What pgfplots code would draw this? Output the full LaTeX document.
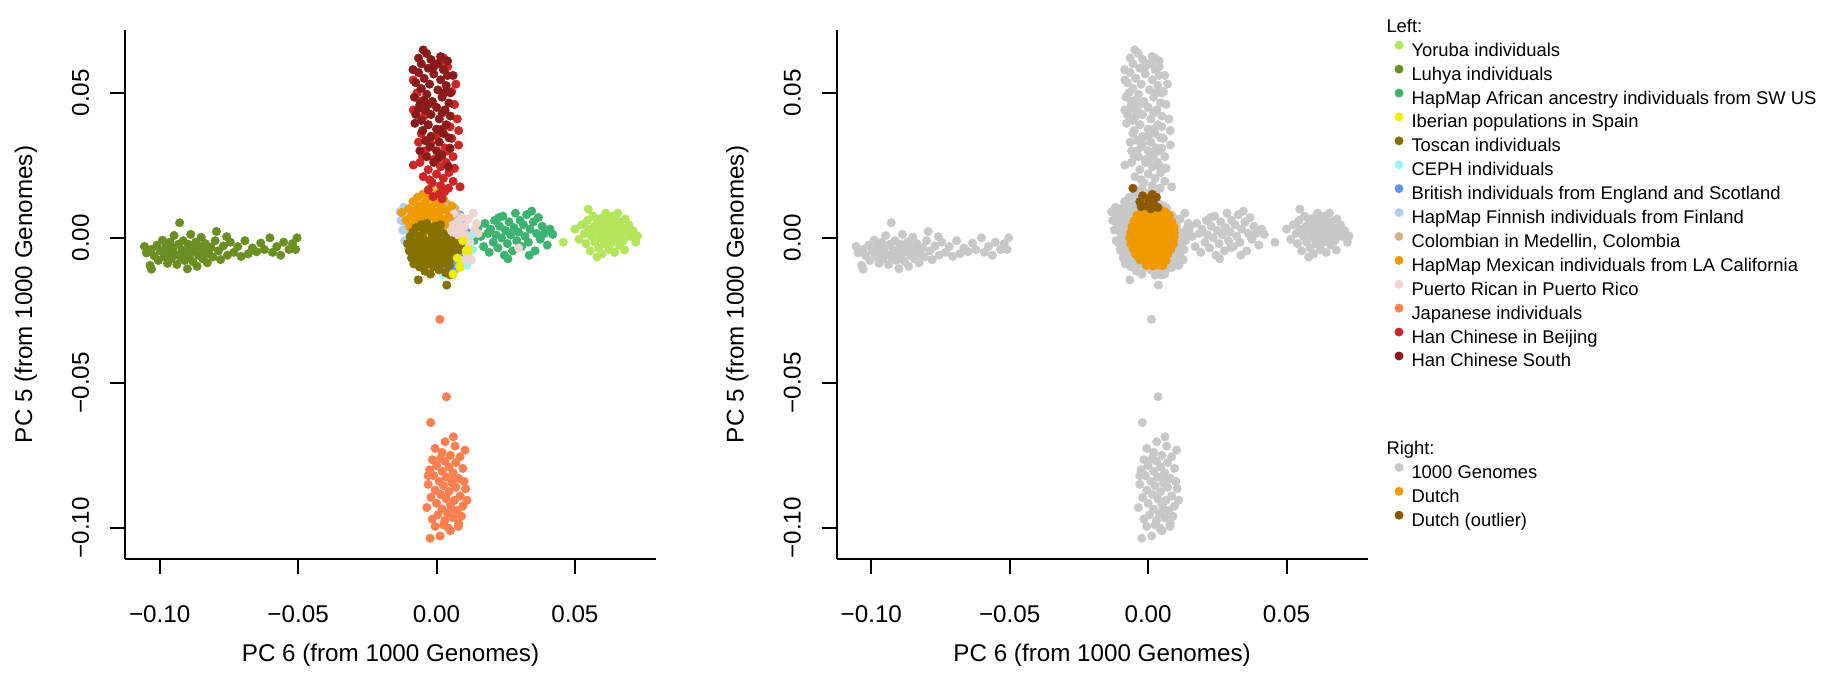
\documentclass[border=0pt]{standalone}
\usepackage{fontspec}
\setmainfont{Liberation Sans}
\usepackage{pgfplots}
\usepackage{pgfplotstable}
\pgfplotsset{compat=1.18}

\definecolor{cYRI}{HTML}{B3E65C}
\definecolor{cLWK}{HTML}{6B8E23}
\definecolor{cASW}{HTML}{3CB371}
\definecolor{cIBS}{HTML}{EEEE00}
\definecolor{cTSI}{HTML}{857000}
\definecolor{cCEU}{HTML}{98F5FF}
\definecolor{cGBR}{HTML}{6495ED}
\definecolor{cFIN}{HTML}{B4CDEB}
\definecolor{cCLM}{HTML}{D2B48C}
\definecolor{cMXL}{HTML}{EE9A00}
\definecolor{cPUR}{HTML}{EED5D2}
\definecolor{cJPT}{HTML}{FF7F50}
\definecolor{cCHB}{HTML}{CD2626}
\definecolor{cCHS}{HTML}{8B1A1A}
\definecolor{cKG}{HTML}{C8C8C8}
\definecolor{cNL}{HTML}{EE9A00}
\definecolor{cNLout}{HTML}{8B5A00}

% PC6 (x), PC5 (y) per population
\pgfplotstableread{
x y
0.0458 -0.0015
0.0500 0.0030
0.0515 -0.0005
0.0525 0.0045
0.0535 0.0015
0.0540 -0.0020
0.0545 0.0060
0.0548 0.0099
0.0550 0.0030
0.0555 -0.0045
0.0560 0.0005
0.0565 0.0075
0.0570 0.0040
0.0572 -0.0015
0.0578 0.0020
0.0580 -0.0066
0.0585 -0.0035
0.0588 0.0055
0.0592 0.0000
0.0595 0.0030
0.0598 -0.0055
0.0600 0.0070
0.0603 0.0015
0.0606 -0.0020
0.0608 0.0045
0.0612 0.0085
0.0615 -0.0005
0.0618 0.0025
0.0620 0.0060
0.0623 -0.0040
0.0626 0.0010
0.0630 0.0040
0.0633 -0.0015
0.0636 0.0075
0.0640 0.0020
0.0643 -0.0050
0.0646 0.0050
0.0650 0.0000
0.0653 0.0030
0.0655 0.0085
0.0660 -0.0025
0.0663 0.0055
0.0667 0.0010
0.0671 0.0035
0.0675 -0.0010
0.0680 -0.0042
0.0682 0.0065
0.0685 0.0020
0.0695 0.0045
0.0700 0.0005
0.0710 0.0025
0.0720 -0.0015
0.0726 0.0006
0.0610 0.0050
0.0580 0.0065
0.0640 0.0065
}\tYRI

\pgfplotstableread{
x y
-0.1055 -0.0030
-0.1048 -0.0052
-0.1035 -0.0095
-0.1030 -0.0040
-0.1030 -0.0108
-0.1020 -0.0062
-0.1010 -0.0025
-0.1005 -0.0078
-0.0997 -0.0045
-0.0990 -0.0008
-0.0985 -0.0065
-0.0978 -0.0030
-0.0972 -0.0088
-0.0968 -0.0052
-0.0963 -0.0015
-0.0958 -0.0072
-0.0952 -0.0035
-0.0948 0.0008
-0.0943 -0.0058
-0.0938 -0.0092
-0.0932 -0.0022
-0.0928 0.0052
-0.0925 -0.0068
-0.0920 -0.0042
-0.0915 -0.0010
-0.0910 -0.0078
-0.0905 -0.0050
-0.0900 -0.0107
-0.0897 -0.0022
-0.0893 -0.0062
-0.0888 0.0012
-0.0884 -0.0035
-0.0880 -0.0082
-0.0875 -0.0046
-0.0870 -0.0015
-0.0865 -0.0098
-0.0860 -0.0060
-0.0855 -0.0030
-0.0850 0.0002
-0.0845 -0.0072
-0.0840 -0.0045
-0.0835 -0.0020
-0.0828 -0.0086
-0.0822 -0.0055
-0.0815 -0.0033
-0.0808 -0.0066
-0.0800 -0.0010
-0.0795 0.0022
-0.0788 -0.0045
-0.0780 -0.0075
-0.0770 -0.0028
-0.0758 0.0004
-0.0755 -0.0060
-0.0745 -0.0015
-0.0732 -0.0050
-0.0718 -0.0030
-0.0706 -0.0064
-0.0692 -0.0010
-0.0680 -0.0055
-0.0665 -0.0035
-0.0650 -0.0048
-0.0635 -0.0018
-0.0622 -0.0040
-0.0602 0.0000
-0.0592 -0.0050
-0.0577 -0.0030
-0.0563 -0.0060
-0.0552 -0.0015
-0.0533 -0.0040
-0.0520 -0.0020
-0.0509 -0.0040
-0.0504 0.0000
}\tLWK

\pgfplotstableread{
x y
0.0120 0.0015
0.0135 -0.0010
0.0150 0.0035
0.0160 0.0005
0.0170 -0.0030
0.0175 0.0050
0.0185 0.0015
0.0190 -0.0050
0.0195 0.0030
0.0205 -0.0015
0.0210 0.0060
0.0215 0.0010
0.0222 -0.0035
0.0225 0.0070
0.0228 0.0040
0.0235 0.0000
0.0240 0.0075
0.0245 -0.0060
0.0250 0.0025
0.0256 -0.0020
0.0258 -0.0072
0.0262 0.0055
0.0268 0.0010
0.0275 -0.0045
0.0280 0.0035
0.0285 0.0085
0.0290 -0.0010
0.0296 0.0020
0.0302 0.0060
0.0308 -0.0030
0.0314 0.0045
0.0320 0.0005
0.0326 0.0080
0.0332 -0.0015
0.0335 -0.0060
0.0338 0.0030
0.0344 0.0092
0.0350 0.0055
0.0356 -0.0045
0.0362 0.0015
0.0368 0.0070
0.0375 -0.0005
0.0382 0.0040
0.0390 0.0015
0.0400 -0.0025
0.0410 0.0030
0.0420 0.0012
}\tASW

\pgfplotstableread{
x y
0.0115 -0.0042
0.0108 -0.0044
0.0085 -0.0102
0.0084 -0.0099
0.0060 -0.0125
0.0095 -0.0010
0.0075 -0.0070
}\tIBS

\pgfplotstableread{
x y
-0.0105 -0.0020
-0.0098 -0.0045
-0.0095 0.0005
-0.0090 -0.0070
-0.0088 -0.0030
-0.0085 0.0020
-0.0082 -0.0090
-0.0080 -0.0055
-0.0077 -0.0015
-0.0074 0.0035
-0.0072 -0.0075
-0.0070 -0.0040
-0.0066 -0.0145
-0.0065 0.0005
-0.0062 -0.0100
-0.0060 -0.0060
-0.0057 -0.0025
-0.0055 0.0045
-0.0052 -0.0085
-0.0050 -0.0045
-0.0047 -0.0005
-0.0045 0.0025
-0.0042 -0.0115
-0.0040 -0.0065
-0.0037 -0.0030
-0.0035 0.0050
-0.0032 -0.0090
-0.0030 -0.0050
-0.0027 -0.0010
-0.0025 0.0030
-0.0022 -0.0125
-0.0020 -0.0075
-0.0017 -0.0040
-0.0015 0.0010
-0.0012 -0.0100
-0.0010 -0.0060
-0.0007 -0.0020
-0.0005 0.0040
-0.0002 -0.0085
0.0000 -0.0045
0.0003 -0.0005
0.0005 0.0020
0.0008 -0.0110
0.0010 -0.0065
0.0013 -0.0030
0.0015 0.0045
0.0018 -0.0090
0.0020 -0.0050
0.0023 -0.0015
0.0025 0.0015
0.0028 -0.0075
0.0030 -0.0035
0.0033 -0.0120
0.0035 0.0000
0.0037 -0.0163
0.0040 -0.0060
0.0043 -0.0025
0.0046 -0.0095
0.0049 -0.0128
0.0050 -0.0045
0.0055 -0.0010
0.0058 -0.0070
0.0062 -0.0035
0.0067 -0.0055
0.0072 -0.0020
0.0078 -0.0045
0.0085 -0.0030
0.0091 -0.0015
}\tTSI

\pgfplotstableread{
x y
0.0025 -0.0128
0.0040 -0.0100
0.0050 -0.0075
0.0060 -0.0110
0.0070 -0.0060
0.0078 -0.0090
0.0085 -0.0030
0.0090 -0.0070
0.0100 -0.0045
0.0108 -0.0015
0.0115 -0.0060
0.0121 -0.0019
0.0125 0.0010
0.0095 0.0015
0.0070 0.0030
0.0035 -0.0060
0.0110 -0.0095
0.0130 -0.0040
}\tCEU

\pgfplotstableread{
x y
0.0085 0.0079
0.0070 0.0060
0.0060 0.0040
0.0095 0.0050
0.0050 0.0070
0.0080 0.0020
0.0105 0.0025
0.0040 0.0015
0.0065 -0.0010
0.0090 -0.0020
0.0100 -0.0050
0.0075 -0.0055
0.0055 -0.0085
0.0085 -0.0080
0.0065 -0.0110
0.0045 -0.0120
0.0030 -0.0105
0.0110 -0.0030
0.0020 0.0055
}\tGBR

\pgfplotstableread{
x y
-0.0132 0.0090
-0.0128 0.0060
-0.0122 0.0027
-0.0118 0.0105
-0.0115 -0.0010
-0.0110 0.0045
-0.0105 0.0075
-0.0100 -0.0040
-0.0098 0.0015
-0.0092 0.0095
-0.0088 -0.0065
-0.0085 0.0040
-0.0080 0.0070
-0.0075 -0.0020
-0.0070 0.0110
-0.0065 0.0025
-0.0060 -0.0080
-0.0050 0.0060
-0.0045 -0.0050
-0.0035 0.0085
}\tFIN

\pgfplotstableread{
x y
0.0010 0.0120
0.0019 0.0125
0.0030 0.0105
0.0037 0.0119
0.0045 0.0095
0.0055 0.0090
0.0067 0.0102
0.0075 0.0080
0.0025 0.0075
-0.0010 0.0060
0.0040 0.0060
0.0060 0.0040
-0.0030 0.0030
0.0015 0.0040
0.0080 0.0020
}\tCLM

\pgfplotstableread{
x y
-0.0126 0.0087
-0.0110 0.0060
-0.0100 0.0100
-0.0096 0.0038
-0.0090 0.0075
-0.0085 0.0125
-0.0080 0.0050
-0.0075 0.0095
-0.0072 0.0020
-0.0068 0.0140
-0.0065 0.0070
-0.0060 0.0110
-0.0057 0.0035
-0.0053 0.0085
-0.0050 0.0150
-0.0047 0.0055
-0.0043 0.0120
-0.0040 0.0020
-0.0037 0.0095
-0.0033 0.0065
-0.0030 0.0135
-0.0027 0.0040
-0.0023 0.0171
-0.0020 0.0105
-0.0017 0.0075
-0.0013 0.0145
-0.0010 0.0025
-0.0007 0.0090
-0.0003 0.0120
0.0000 0.0055
0.0004 0.0155
0.0008 0.0085
0.0012 0.0030
0.0016 0.0110
0.0020 0.0065
0.0025 0.0135
0.0030 0.0045
0.0035 0.0095
0.0045 0.0070
0.0055 0.0110
}\tMXL

\pgfplotstableread{
x y
-0.0060 -0.0040
-0.0020 0.0060
-0.0005 0.0035
0.0005 0.0070
0.0015 0.0010
0.0020 0.0050
0.0028 -0.0020
0.0032 0.0080
0.0038 0.0030
0.0042 -0.0050
0.0046 0.0060
0.0050 0.0005
0.0055 -0.0030
0.0058 0.0045
0.0062 0.0085
0.0066 -0.0065
0.0070 0.0020
0.0073 -0.0010
0.0077 0.0055
0.0080 -0.0045
0.0084 0.0030
0.0088 0.0000
0.0092 0.0070
0.0095 -0.0080
0.0098 -0.0025
0.0102 0.0040
0.0106 0.0010
0.0110 -0.0055
0.0115 0.0065
0.0120 -0.0015
0.0127 -0.0076
0.0133 0.0085
0.0138 0.0030
0.0145 0.0050
0.0150 0.0015
0.0297 -0.0035
}\tPUR

\pgfplotstableread{
x y
0.0012 -0.0281
0.0036 -0.0548
-0.0021 -0.0637
0.0061 -0.0686
0.0031 -0.0703
-0.0005 -0.0726
0.0067 -0.0718
0.0103 -0.0732
0.0020 -0.0740
0.0050 -0.0750
0.0085 -0.0755
-0.0015 -0.0765
0.0015 -0.0760
0.0030 -0.0770
0.0070 -0.0775
0.0000 -0.0785
0.0045 -0.0790
0.0095 -0.0795
-0.0025 -0.0800
0.0020 -0.0805
0.0060 -0.0810
-0.0010 -0.0820
-0.0030 -0.0820
0.0035 -0.0825
0.0080 -0.0830
0.0065 -0.0830
0.0010 -0.0840
0.0100 -0.0840
0.0055 -0.0845
-0.0030 -0.0850
0.0025 -0.0855
0.0070 -0.0860
0.0105 -0.0865
-0.0005 -0.0870
0.0045 -0.0875
0.0015 -0.0885
0.0085 -0.0890
-0.0020 -0.0895
0.0035 -0.0900
0.0065 -0.0905
0.0110 -0.0905
0.0000 -0.0915
0.0050 -0.0920
0.0095 -0.0925
-0.0035 -0.0930
0.0020 -0.0935
0.0055 -0.0935
0.0075 -0.0940
0.0040 -0.0950
0.0005 -0.0955
0.0090 -0.0960
0.0060 -0.0965
-0.0015 -0.0970
0.0030 -0.0975
0.0080 -0.0985
0.0025 -0.0990
-0.0005 -0.0995
0.0079 -0.0995
0.0043 -0.1001
0.0050 -0.1010
0.0013 -0.1028
-0.0023 -0.1036
}\tJPT

\pgfplotstableread{
x y
-0.0012 0.0142
0.0020 0.0135
0.0010 0.0150
0.0030 0.0160
-0.0030 0.0165
0.0043 0.0171
0.0085 0.0176
0.0015 0.0180
-0.0015 0.0190
0.0060 0.0195
-0.0025 0.0200
-0.0048 0.0211
0.0025 0.0205
0.0000 0.0220
0.0045 0.0225
-0.0030 0.0235
0.0065 0.0240
-0.0084 0.0251
0.0015 0.0245
-0.0060 0.0260
0.0035 0.0260
-0.0010 0.0270
-0.0050 0.0280
0.0060 0.0280
0.0010 0.0290
-0.0040 0.0300
0.0040 0.0300
0.0030 0.0310
0.0080 0.0320
-0.0020 0.0325
-0.0065 0.0330
0.0055 0.0343
0.0000 0.0350
-0.0055 0.0360
0.0080 0.0370
0.0020 0.0375
0.0049 0.0383
-0.0030 0.0390
0.0075 0.0410
-0.0045 0.0420
-0.0084 0.0441
0.0031 0.0441
0.0065 0.0460
-0.0060 0.0470
-0.0070 0.0500
0.0055 0.0504
0.0070 0.0530
-0.0084 0.0544
0.0040 0.0590
0.0013 0.0607
0.0025 0.0620
}\tCHB

\pgfplotstableread{
x y
-0.0048 0.0648
-0.0036 0.0636
-0.0065 0.0620
0.0015 0.0625
-0.0020 0.0615
0.0040 0.0610
-0.0055 0.0600
0.0005 0.0600
-0.0010 0.0590
-0.0030 0.0585
-0.0085 0.0580
0.0025 0.0580
-0.0065 0.0570
-0.0010 0.0565
0.0040 0.0560
0.0060 0.0560
-0.0045 0.0550
0.0015 0.0545
-0.0075 0.0535
-0.0025 0.0530
0.0035 0.0525
-0.0055 0.0515
0.0005 0.0510
0.0050 0.0500
0.0030 0.0500
-0.0035 0.0495
-0.0080 0.0485
0.0020 0.0485
-0.0045 0.0475
-0.0015 0.0470
0.0045 0.0465
-0.0060 0.0460
-0.0030 0.0460
0.0000 0.0450
-0.0065 0.0445
-0.0040 0.0440
0.0030 0.0440
0.0020 0.0430
-0.0075 0.0425
-0.0020 0.0425
0.0050 0.0420
0.0010 0.0410
-0.0055 0.0405
-0.0078 0.0395
-0.0030 0.0390
0.0035 0.0390
0.0000 0.0375
-0.0050 0.0370
0.0015 0.0370
0.0025 0.0360
-0.0020 0.0350
0.0045 0.0345
-0.0040 0.0335
0.0010 0.0330
-0.0023 0.0314
0.0049 0.0309
0.0000 0.0300
-0.0060 0.0300
0.0020 0.0285
-0.0035 0.0280
0.0007 0.0274
-0.0010 0.0260
0.0043 0.0245
}\tCHS

\pgfplotstableread{
x y
-0.0020 0.0095
0.0002 0.0098
0.0022 0.0093
0.0042 0.0097
0.0060 0.0090
-0.0040 0.0078
-0.0018 0.0074
0.0002 0.0079
0.0023 0.0075
0.0043 0.0080
0.0062 0.0073
0.0076 0.0078
-0.0051 0.0058
-0.0030 0.0055
-0.0009 0.0060
0.0011 0.0056
0.0031 0.0059
0.0051 0.0054
0.0070 0.0058
0.0086 0.0055
-0.0058 0.0038
-0.0037 0.0040
-0.0019 0.0036
0.0003 0.0039
0.0022 0.0037
0.0043 0.0040
0.0062 0.0035
0.0081 0.0039
0.0094 0.0036
-0.0063 0.0018
-0.0043 0.0021
-0.0021 0.0017
-0.0002 0.0020
0.0019 0.0018
0.0038 0.0021
0.0059 0.0017
0.0078 0.0020
0.0095 0.0018
-0.0066 0.0000
-0.0045 -0.0002
-0.0025 0.0002
-0.0004 -0.0001
0.0015 0.0001
0.0036 -0.0002
0.0055 0.0002
0.0076 -0.0001
0.0094 0.0001
-0.0063 -0.0020
-0.0041 -0.0017
-0.0022 -0.0021
-0.0001 -0.0018
0.0018 -0.0020
0.0039 -0.0017
0.0058 -0.0021
0.0078 -0.0018
0.0092 -0.0020
-0.0054 -0.0038
-0.0035 -0.0040
-0.0014 -0.0036
0.0005 -0.0039
0.0026 -0.0037
0.0045 -0.0040
0.0065 -0.0036
0.0082 -0.0039
-0.0045 -0.0057
-0.0025 -0.0059
-0.0004 -0.0055
0.0015 -0.0058
0.0036 -0.0056
0.0055 -0.0059
0.0072 -0.0055
-0.0030 -0.0076
-0.0010 -0.0078
0.0011 -0.0074
0.0031 -0.0077
0.0050 -0.0075
0.0065 -0.0079
-0.0006 -0.0095
0.0016 -0.0097
0.0036 -0.0093
0.0052 -0.0096
}\tNL

\pgfplotstableread{
x y
-0.0055 0.0171
-0.0030 0.0125
-0.0020 0.0145
-0.0005 0.0110
0.0000 0.0135
0.0015 0.0150
0.0020 0.0118
0.0030 0.0140
0.0035 0.0105
-0.0025 0.0108
0.0010 0.0100
}\tNLout

\pgfplotsset{
  pcaxis/.style={
    scale only axis, width=265.5pt, height=264.5pt,
    xmin=-0.11254, xmax=0.0793, ymin=-0.11074, ymax=0.07167,
    axis x line*=bottom, axis y line*=left,
    axis line style={line width=1pt, black},
    tick align=outside, major tick length=7.5pt,
    tick style={line width=1pt, black},
    xtick={-0.1,-0.05,0,0.05}, xticklabels={−0.10,−0.05,0.00,0.05},
    ytick={-0.1,-0.05,0,0.05}, yticklabels={−0.10,−0.05,0.00,0.05},
    tick label style={font=\fontsize{12.1}{14}\selectfont},
    xticklabel style={anchor=base, inner sep=0pt, yshift=-24pt},
    yticklabel style={xshift=-10.5pt, rotate=90, anchor=base, inner sep=0pt},
    label style={font=\fontsize{12.1}{14}\selectfont, inner sep=0pt},
    xlabel={PC 6 (from 1000 Genomes)},
    ylabel={PC 5 (from 1000 Genomes)},
    xlabel style={at={(axis description cs:0.5,-0.19282)}, anchor=base},
    ylabel style={at={(axis description cs:-0.17514,0.5)}, anchor=base},
    legend image code/.code={\fill[##1, draw=none] (0pt,3pt) circle (2.25pt);},
    legend cell align=left,
    legend style={draw=none, fill=none, inner sep=0pt, outer sep=0pt,
      anchor=north west, column sep=4pt, row sep=2.2pt,
      font=\fontsize{9.2}{11}\selectfont,
      nodes={inner sep=0pt, outer sep=0pt, text height=7pt, text depth=2pt}},
  },
  dots/.style={only marks, mark=*, mark size=2.1pt, line width=0.3pt,
    color=#1, forget plot},
}

\begin{document}
\begin{tikzpicture}
\useasboundingbox (0,0) rectangle (920.5pt,337pt);

% left: populations of 1000 Genomes
\begin{axis}[pcaxis, at={(62.5pt,57.5pt)}, anchor=south west,
  legend style={at={(2.39077,1.0220)}}]
\addplot[dots=cYRI] table {\tYRI};
\addplot[dots=cLWK] table {\tLWK};
\addplot[dots=cASW] table {\tASW};
\addplot[dots=cCEU] table {\tCEU};
\addplot[dots=cGBR] table {\tGBR};
\addplot[dots=cFIN] table {\tFIN};
\addplot[dots=cCLM] table {\tCLM};
\addplot[dots=cPUR] table {\tPUR};
\addplot[dots=cMXL] table {\tMXL};
\addplot[dots=cTSI] table {\tTSI};
\addplot[dots=cIBS] table {\tIBS};
\addplot[dots=cJPT] table {\tJPT};
\addplot[dots=cCHB] table {\tCHB};
\addplot[dots=cCHS] table {\tCHS};
\addlegendimage{empty legend}
\addlegendimage{color=cYRI}
\addlegendimage{color=cLWK}
\addlegendimage{color=cASW}
\addlegendimage{color=cIBS}
\addlegendimage{color=cTSI}
\addlegendimage{color=cCEU}
\addlegendimage{color=cGBR}
\addlegendimage{color=cFIN}
\addlegendimage{color=cCLM}
\addlegendimage{color=cMXL}
\addlegendimage{color=cPUR}
\addlegendimage{color=cJPT}
\addlegendimage{color=cCHB}
\addlegendimage{color=cCHS}
\legend{\hspace*{-12.5pt}Left:, Yoruba individuals, Luhya individuals,
  HapMap African ancestry individuals from SW US, Iberian populations in Spain,
  Toscan individuals, CEPH individuals, British individuals from England and Scotland,
  HapMap Finnish individuals from Finland, {Colombian in Medellin, Colombia},
  HapMap Mexican individuals from LA California, Puerto Rican in Puerto Rico,
  Japanese individuals, Han Chinese in Beijing, Han Chinese South}
\end{axis}

% right: Dutch samples projected
\begin{axis}[pcaxis, at={(418.3pt,57.5pt)}, anchor=south west,
  legend style={at={(1.05066,0.2240)}}]
\addplot[dots=cKG] table {\tYRI};
\addplot[dots=cKG] table {\tLWK};
\addplot[dots=cKG] table {\tASW};
\addplot[dots=cKG] table {\tCEU};
\addplot[dots=cKG] table {\tGBR};
\addplot[dots=cKG] table {\tFIN};
\addplot[dots=cKG] table {\tCLM};
\addplot[dots=cKG] table {\tPUR};
\addplot[dots=cKG] table {\tMXL};
\addplot[dots=cKG] table {\tTSI};
\addplot[dots=cKG] table {\tIBS};
\addplot[dots=cKG] table {\tJPT};
\addplot[dots=cKG] table {\tCHB};
\addplot[dots=cKG] table {\tCHS};
\addplot[dots=cNL] table {\tNL};
\addplot[dots=cNLout] table {\tNLout};
\addlegendimage{empty legend}
\addlegendimage{color=cKG}
\addlegendimage{color=cNL}
\addlegendimage{color=cNLout}
\legend{\hspace*{-12.5pt}Right:, 1000 Genomes, Dutch, Dutch (outlier)}
\end{axis}
\end{tikzpicture}
\end{document}
